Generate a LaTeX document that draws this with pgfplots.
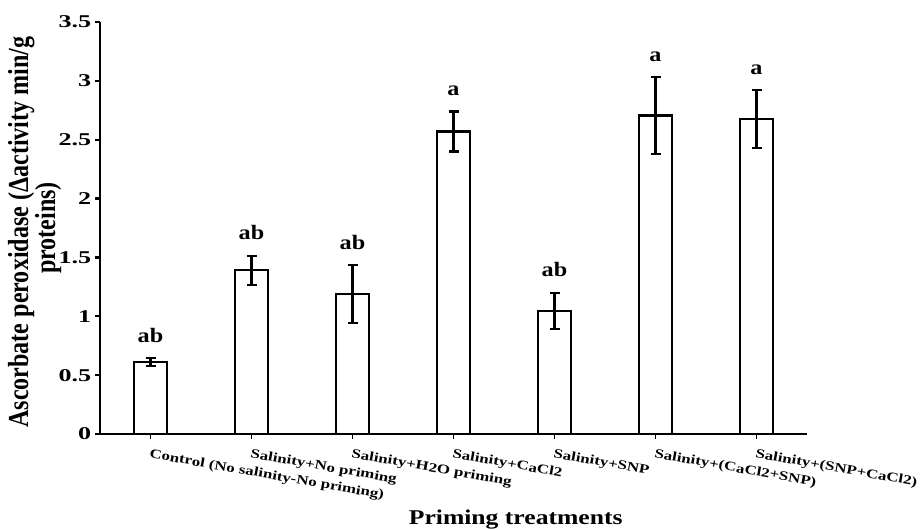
\documentclass[border=0pt]{standalone}
\usepackage{pgfplots}
\usepackage{pgfplotstable}
\pgfplotsset{compat=1.18}
\usepackage{fontspec}
\setmainfont{Liberation Serif}
% widened / narrowed cuts of the serif for the different labels
\newfontfamily\numfont[FakeStretch=1.45]{Liberation Serif}
\newfontfamily\catfont[FakeStretch=1.3]{Liberation Serif}
\newfontfamily\xlabfont[FakeStretch=1.22]{Liberation Serif}
\newfontfamily\letfont[FakeStretch=1.18]{Liberation Serif}
\newfontfamily\ylabfont[FakeStretch=0.83]{Liberation Serif}

% Ascorbate peroxidase activity: mean, standard error, significance letter
\pgfplotstableread{
x y err lab
0 0.61 0.035 ab
1 1.39 0.125 ab
2 1.19 0.245 ab
3 2.57 0.170 a
4 1.045 0.155 ab
5 2.705 0.325 a
6 2.675 0.245 a
}\apxdata

\begin{document}
\begin{tikzpicture}
\useasboundingbox (0,0) rectangle (921pt,528pt);
\begin{axis}[
  at={(100pt,94pt)}, anchor=south west,
  scale only axis, width=707pt, height=412pt,
  xmin=-0.5, xmax=6.5, ymin=0, ymax=3.5,
  axis lines=left,
  axis line style={line width=2.6pt, -},
  tick align=outside,
  major tick length=4.5pt,
  xtick={0,...,6},
  xticklabels={Control (No salinity-No priming), Salinity+No priming, Salinity+H2O priming, Salinity+CaCl2, Salinity+SNP, Salinity+(CaCl2+SNP), Salinity+(SNP+CaCl2)},
  ytick={0,0.5,...,3.5},
  yticklabels={0,0.5,1,1.5,2,2.5,3,3.5},
  x tick style={line width=1.8pt, black},
  y tick style={line width=2.4pt, black},
  xticklabel style={font=\catfont\bfseries\fontsize{13}{13}\selectfont, anchor=north west, inner sep=0pt, yshift=-10pt, rotate=-10},
  yticklabel style={font=\numfont\bfseries\fontsize{18}{18}\selectfont, inner sep=1pt, xshift=-3pt},
  xlabel={Priming treatments},
  xlabel style={at={(axis description cs:0.588,0)}, anchor=base, yshift=-90pt, font=\xlabfont\bfseries\fontsize{21}{21}\selectfont},
  clip=false,
]
\addplot[ybar, bar width=33pt, fill=white, draw=black, line width=2.2pt,
  error bars/.cd, y dir=both, y explicit,
  error bar style={line width=2.2pt, black},
  error mark options={rotate=90, mark size=5pt, line width=2.2pt, black}]
  table[x=x, y=y, y error=err] {\apxdata};
\addplot[draw=none, mark=none, nodes near coords, point meta=explicit symbolic,
  nodes near coords style={anchor=base, yshift=16pt, inner sep=0pt, font=\letfont\bfseries\fontsize{20.5}{20.5}\selectfont}]
  table[x=x, y expr=\thisrow{y}+\thisrow{err}, meta=lab] {\apxdata};
% two-line y-axis title
\node[rotate=90, anchor=base, inner sep=0pt, font=\ylabfont\bfseries\fontsize{29}{29}\selectfont]
  at (axis description cs:-0.1018,0.49) {Ascorbate peroxidase (Δactivity min/g};
\node[rotate=90, anchor=base, inner sep=0pt, font=\ylabfont\bfseries\fontsize{29}{29}\selectfont]
  at (axis description cs:-0.0636,0.50) {proteins)};
\end{axis}
\end{tikzpicture}
\end{document}
